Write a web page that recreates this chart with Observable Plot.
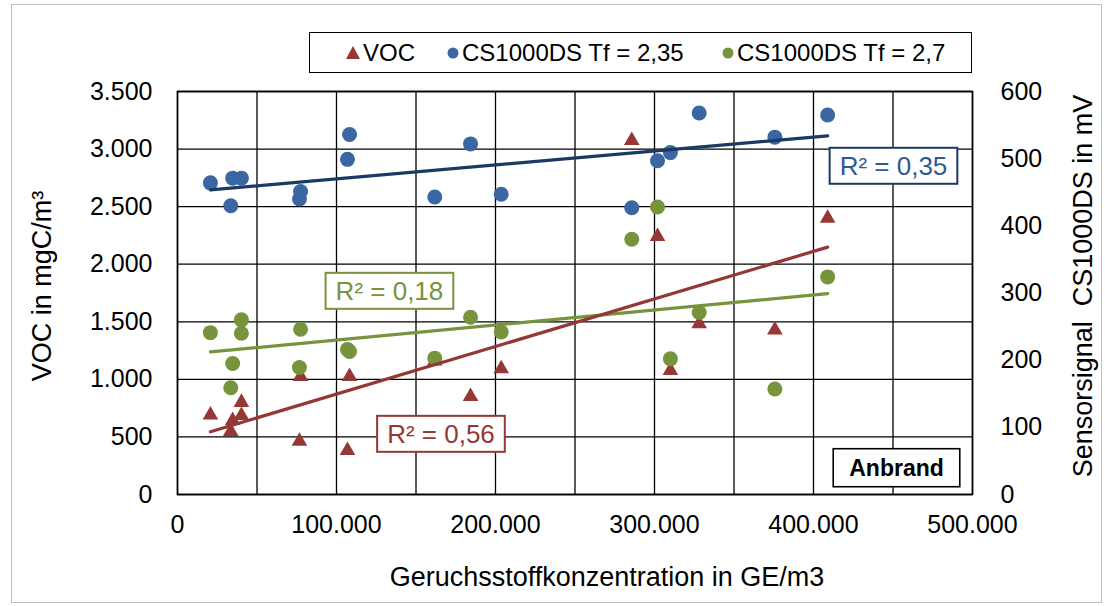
<!DOCTYPE html>
<html><head><meta charset="utf-8">
<script src="https://cdn.jsdelivr.net/npm/d3@7"></script>
<script src="https://cdn.jsdelivr.net/npm/@observablehq/plot@0.6"></script>
<style>
body{margin:0;background:#fff;font-family:"Liberation Sans",Arial,sans-serif;}
#wrap{position:relative;width:1105px;height:606px;overflow:hidden;}
#border{position:absolute;left:11px;top:4px;width:1089px;height:597px;border:1px solid #bfbfbf;pointer-events:none;}
#legend{position:absolute;left:309px;top:32px;width:663px;height:41px;border:1.5px solid #000;box-sizing:border-box;background:#fff;font-size:24px;color:#000;}
.li{position:absolute;top:0;height:100%;display:flex;align-items:center;white-space:nowrap;}
.li svg{margin-right:3px;}
</style></head><body>
<div id="wrap"><div id="chart"></div><div id="legend"></div><div id="border"></div></div>
<script>
// ---- data ----
const xGridTicks = [0, 50000, 100000, 150000, 200000, 250000, 300000, 350000, 400000, 450000, 500000];
const xLabelTicks = [0, 100000, 200000, 300000, 400000, 500000];
const yLeftTicks = [0, 500, 1000, 1500, 2000, 2500, 3000, 3500];
const yRightTicks = [0, 100, 200, 300, 400, 500, 600];

const vocX = [20700, 33500, 34700, 40200, 40200, 76700, 77400, 106900, 108200, 161800, 184300, 203600, 285700, 301900, 310000, 328100, 375700, 408900];
const vocY = [690, 547, 643, 800, 686, 463, 1025, 382, 1025, 1160, 851, 1092, 3074, 2241, 1077, 1482, 1428, 2400];

const cs235X = [20700, 33500, 34700, 40200, 76700, 77400, 106900, 108200, 161800, 184300, 203600, 285700, 301900, 310000, 328100, 375700, 408900];
const cs235Y = [464, 430, 471, 471, 440, 451, 499, 536, 443, 522, 447, 427, 497, 509, 568, 532, 565];

const cs27X = [20700, 33500, 34700, 40200, 40200, 76700, 77400, 106900, 108200, 161800, 184300, 203600, 285700, 301900, 310000, 328100, 375700, 408900];
const cs27Y = [241, 159, 195, 260, 240, 189, 246, 216, 213, 203, 264, 242, 380, 428, 202, 271, 157, 324];

const seriesNames = ["VOC", "CS1000DS Tf = 2,35", "CS1000DS Tf = 2,7"];
const noteTexts = ["R² = 0,35", "R² = 0,18", "R² = 0,56"];
const noteX = [450300, 133300, 165700];
const noteY = [2849, 1763, 521];
const tagText = "Anbrand";
const tagX = 452200, tagY = 227;

const xTitle = "Geruchsstoffkonzentration in GE/m3";
const yTitle = "VOC in mgC/m³";
const y2Title = "Sensorsignal  CS1000DS in mV";

// ---- styles ----
const RED = "#953735", BLUE = "#3A66A2", GREEN = "#77933C", NAVY = "#1B3A63";
const noteTextColors = ["#2F5A8E", GREEN, RED];
const noteBorderColors = [NAVY, GREEN, RED];

const K = 3500 / 600; // right axis (mV) -> left axis units
const fmt = d3.formatLocale({decimal: ",", thousands: ".", grouping: [3], currency: ["", "€"]}).format(",d");

const voc = vocX.map((x, i) => ({x, y: vocY[i]}));
const blue = cs235X.map((x, i) => ({x, y: cs235Y[i] * K}));
const green = cs27X.map((x, i) => ({x, y: cs27Y[i] * K}));
const notes = noteTexts.map((t, i) => ({t, x: noteX[i], y: noteY[i], c: noteTextColors[i]}));

const grid = {stroke: "#000", strokeOpacity: 1, strokeWidth: 1.3};
const titleStyle = {fontSize: 27, fill: "#000", textAnchor: "middle", lineAnchor: "middle"};

const plot = Plot.plot({
  width: 1105, height: 606,
  marginLeft: 177, marginRight: 133, marginTop: 91, marginBottom: 112,
  style: {fontSize: "25px", fontFamily: "'Liberation Sans', Arial, sans-serif", color: "#000", background: "transparent"},
  x: {domain: [0, 500000]},
  y: {domain: [0, 3500]},
  marks: [
    Plot.gridX(xGridTicks, grid),
    Plot.gridY(yLeftTicks, grid),
    Plot.frame({stroke: "#000", strokeWidth: 1.6}),
    Plot.axisX(xLabelTicks, {tickSize: 0, tickPadding: 21, tickFormat: fmt, label: null}),
    Plot.axisY(yLeftTicks, {anchor: "left", tickSize: 0, tickPadding: 25, tickFormat: fmt, label: null}),
    Plot.axisY(yRightTicks.map(v => v * K), {anchor: "right", tickSize: 0, tickPadding: 28, tickFormat: d => fmt(Math.round(d / K)), label: null}),
    Plot.dot(voc, {x: "x", y: "y", symbol: "triangle", r: 5.8, fill: RED}),
    Plot.dot(blue, {x: "x", y: "y", r: 7.5, fill: BLUE}),
    Plot.dot(green, {x: "x", y: "y", r: 7.5, fill: GREEN}),
    Plot.linearRegressionY(blue, {x: "x", y: "y", stroke: NAVY, strokeWidth: 3.2, ci: 0}),
    Plot.linearRegressionY(green, {x: "x", y: "y", stroke: GREEN, strokeWidth: 3.2, ci: 0}),
    Plot.linearRegressionY(voc, {x: "x", y: "y", stroke: RED, strokeWidth: 3.2, ci: 0}),
    Plot.text(notes, {x: "x", y: "y", text: "t", fill: "c", fontSize: 26}),
    Plot.text([tagText], {x: () => tagX, y: () => tagY, fontSize: 23, fontWeight: "bold", fill: "#000"}),
    Plot.text([xTitle], {frameAnchor: "bottom", dx: 32, dy: 83, ...titleStyle}),
    Plot.text([yTitle], {frameAnchor: "left", rotate: -90, dx: -135, dy: -7, ...titleStyle}),
    Plot.text([y2Title], {frameAnchor: "right", rotate: -90, dx: 111, dy: -7, ...titleStyle})
  ]
});
document.getElementById("chart").appendChild(plot);

// boxes around annotation texts
const boxSpec = {};
noteTexts.forEach((t, i) => boxSpec[t] = {stroke: noteBorderColors[i], px: 10, py: 3, sw: 2});
boxSpec[tagText] = {stroke: "#000", px: 16, py: 6, sw: 1.6};
plot.querySelectorAll("text").forEach(t => {
  const spec = boxSpec[t.textContent];
  if (!spec) return;
  const bb = t.getBBox();
  const r = document.createElementNS("http://www.w3.org/2000/svg", "rect");
  r.setAttribute("x", bb.x - spec.px);
  r.setAttribute("y", bb.y - spec.py);
  r.setAttribute("width", bb.width + 2 * spec.px);
  r.setAttribute("height", bb.height + 2 * spec.py);
  r.setAttribute("fill", "#fff");
  r.setAttribute("stroke", spec.stroke);
  r.setAttribute("stroke-width", spec.sw);
  if (t.getAttribute("transform")) r.setAttribute("transform", t.getAttribute("transform"));
  t.parentNode.insertBefore(r, t);
});

// legend
const legendColors = [RED, BLUE, GREEN];
const legendSymbols = ["triangle", "circle", "circle"];
const legendLeft = [36, 137, 412];
const lg = document.getElementById("legend");
seriesNames.forEach((name, i) => {
  const d = document.createElement("div");
  d.className = "li";
  d.style.left = legendLeft[i] + "px";
  const sym = legendSymbols[i] === "triangle"
    ? `<svg width="14" height="13"><polygon points="7,0 14,13 0,13" fill="${legendColors[i]}"/></svg>`
    : `<svg width="12" height="12"><circle cx="6" cy="6" r="5.5" fill="${legendColors[i]}"/></svg>`;
  d.innerHTML = sym + `<span>${name}</span>`;
  lg.appendChild(d);
});
</script></body></html>
